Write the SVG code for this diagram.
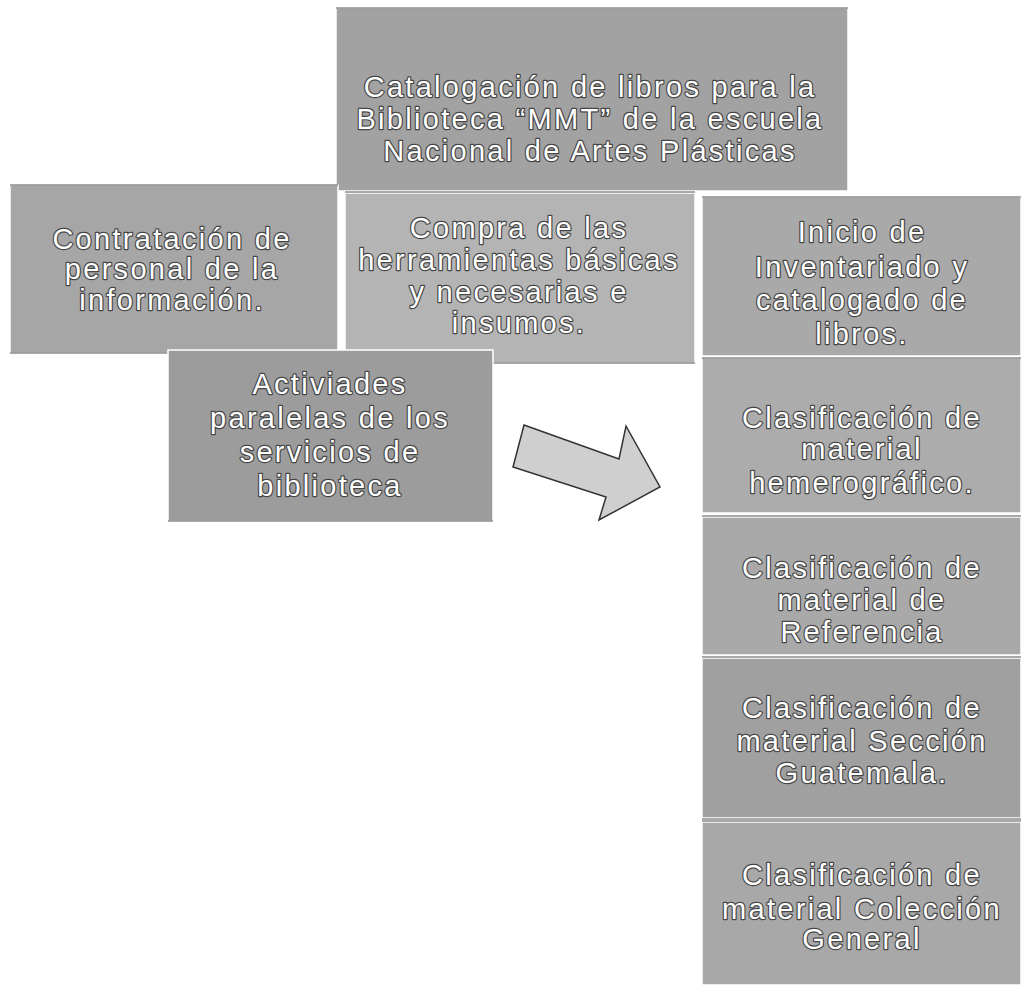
<svg xmlns="http://www.w3.org/2000/svg" width="1023" height="987" viewBox="0 0 1023 987">
<style>
.box{stroke:#ffffff;stroke-width:1.5}
.edge{stroke:#555;stroke-width:1.2}
.t{font-family:"Liberation Sans",Arial,sans-serif;font-size:29px;letter-spacing:2.3px;fill:#ffffff;stroke:#454545;stroke-width:2.4px;paint-order:stroke;stroke-linejoin:round;text-anchor:middle}
</style>
<rect width="1023" height="987" fill="#ffffff"/>
<g id="n-top">
<rect class="box" x="336" y="8" width="512" height="183" fill="#a2a2a2"/>
<line class="edge" x1="336" y1="8" x2="848" y2="8"/>
<text class="t"><tspan x="590" y="97">Catalogación de libros para la</tspan><tspan x="590" y="129">Biblioteca “MMT” de la escuela</tspan><tspan x="590" y="161">Nacional de Artes Plásticas</tspan></text>
</g>
<g id="n-contratacion">
<rect class="box" x="10" y="185" width="328" height="168" fill="#a6a6a6"/>
<line class="edge" x1="10" y1="185" x2="338" y2="185"/>
<line class="edge" x1="10" y1="353" x2="338" y2="353"/>
<text class="t"><tspan x="172" y="249">Contratación de</tspan><tspan x="172" y="279">personal de la</tspan><tspan x="172" y="310">información.</tspan></text>
</g>
<g id="n-compra">
<rect class="box" x="345" y="193" width="350" height="170" fill="#b4b4b4"/>
<line class="edge" x1="345" y1="192" x2="695" y2="192"/>
<line class="edge" x1="345" y1="363" x2="695" y2="363"/>
<text class="t"><tspan x="519" y="238">Compra de las</tspan><tspan x="519" y="270">herramientas básicas</tspan><tspan x="519" y="302">y necesarias e</tspan><tspan x="519" y="333">insumos.</tspan></text>
</g>
<g id="n-actividades">
<rect class="box" x="168" y="350" width="325" height="171" fill="#9c9c9c"/>
<line class="edge" x1="168" y1="521" x2="493" y2="521"/>
<text class="t"><tspan x="330" y="394">Activiades</tspan><tspan x="330" y="428">paralelas de los</tspan><tspan x="330" y="462">servicios de</tspan><tspan x="330" y="496">biblioteca</tspan></text>
</g>
<g id="n-inicio">
<rect class="box" x="702" y="197" width="319" height="159" fill="#a9a9a9"/>
<line class="edge" x1="702" y1="197" x2="1021" y2="197"/>
<text class="t"><tspan x="862" y="242">Inicio de</tspan><tspan x="862" y="277">Inventariado y</tspan><tspan x="862" y="310">catalogado de</tspan><tspan x="862" y="344">libros.</tspan></text>
</g>
<g id="n-hemerografico">
<rect class="box" x="702" y="358" width="319" height="155" fill="#acacac"/>
<line class="edge" x1="702" y1="358" x2="1021" y2="358"/>
<text class="t"><tspan x="862" y="428">Clasificación de</tspan><tspan x="862" y="459">material</tspan><tspan x="862" y="493">hemerográfico.</tspan></text>
</g>
<g id="n-referencia">
<rect class="box" x="702" y="517" width="319" height="138" fill="#a9a9a9"/>
<line class="edge" x1="702" y1="516" x2="1021" y2="516"/>
<text class="t"><tspan x="862" y="578">Clasificación de</tspan><tspan x="862" y="610">material de</tspan><tspan x="862" y="642">Referencia</tspan></text>
</g>
<g id="n-guatemala">
<rect class="box" x="702" y="658" width="319" height="160" fill="#a0a0a0"/>
<line class="edge" x1="702" y1="657" x2="1021" y2="657"/>
<line class="edge" x1="702" y1="819" x2="1021" y2="819"/>
<text class="t"><tspan x="862" y="718">Clasificación de</tspan><tspan x="862" y="751">material Sección</tspan><tspan x="862" y="783">Guatemala.</tspan></text>
</g>
<g id="n-coleccion">
<rect class="box" x="702" y="822" width="319" height="163" fill="#a8a8a8"/>
<line class="edge" x1="702" y1="821" x2="1021" y2="821"/>
<text class="t"><tspan x="862" y="885">Clasificación de</tspan><tspan x="862" y="919">material Colección</tspan><tspan x="862" y="949">General</tspan></text>
</g>
<g id="connectors">
<polygon points="524,425 619,459 626,426 660,487 599,520 606,497 513,467" fill="#cfcfcf" stroke="#333" stroke-width="1.5" stroke-linejoin="miter"/>
</g>
</svg>
